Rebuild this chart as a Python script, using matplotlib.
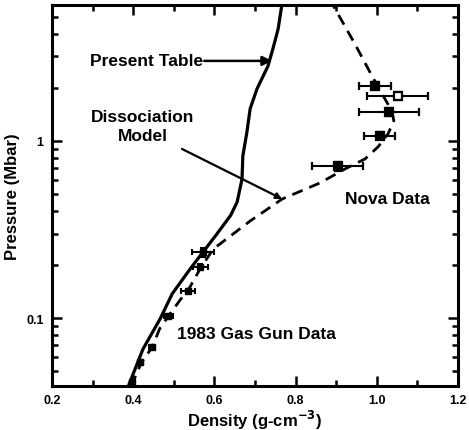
import matplotlib
matplotlib.use("Agg")
import matplotlib.pyplot as plt
from matplotlib.ticker import FixedLocator, NullFormatter, LogLocator, MultipleLocator

plt.rcParams['font.family'] = ['Liberation Sans', 'DejaVu Sans']
plt.rcParams['font.weight'] = 'bold'
plt.rcParams['mathtext.default'] = 'bf'

# Present Table (solid curve)
table_rho = [0.388, 0.424, 0.466, 0.496, 0.540, 0.572, 0.606, 0.640, 0.656, 0.668,
             0.670, 0.680, 0.688, 0.705, 0.732, 0.744, 0.757, 0.766]
table_p = [0.0413, 0.0668, 0.0987, 0.137, 0.189, 0.236, 0.298, 0.38, 0.452, 0.61,
           0.823, 1.12, 1.52, 1.97, 2.65, 3.31, 4.29, 5.85]

# Dissociation model (dashed curve)
model_rho = [0.395, 0.420, 0.447, 0.465, 0.490, 0.515, 0.540, 0.565, 0.597,
             0.688, 0.767, 0.860, 0.922, 0.971, 1.003, 1.028, 1.042, 1.037,
             1.013, 0.988, 0.946, 0.892]
model_p = [0.0413, 0.056, 0.0686, 0.087, 0.105, 0.126, 0.150, 0.19, 0.245,
           0.353, 0.470, 0.579, 0.695, 0.791, 0.925, 1.10, 1.30, 1.48,
           1.84, 2.33, 3.53, 5.85]

# 1983 gas gun data
gun_rho = [0.572, 0.565, 0.535, 0.486, 0.446, 0.417, 0.397]
gun_p = [0.236, 0.195, 0.142, 0.103, 0.0686, 0.0564, 0.0435]
gun_drho = [0.027, 0.018, 0.018, 0.011, 0.008, 0.006, 0.006]
gun_dp = [0.014, 0.006, 0.004, 0.003, 0.002, 0.0015, 0.001]

# Nova data
nova_rho = [0.996, 1.052, 1.030, 1.007, 0.904]
nova_p = [2.05, 1.80, 1.46, 1.07, 0.72]
nova_drho = [0.039, 0.075, 0.073, 0.038, 0.063]
nova_dp = [0.10, 0.09, 0.08, 0.05, 0.04]
nova_open = [False, True, False, False, False]

fig = plt.figure(figsize=(4.69, 4.31), dpi=100)
ax = fig.add_axes([0.111, 0.102, 0.8655, 0.884])

ax.plot(table_rho, table_p, color='black', lw=2.3, solid_capstyle='round')
ax.plot(model_rho, model_p, color='black', lw=2.0, dashes=(4, 2.6))

ax.errorbar(gun_rho, gun_p, xerr=gun_drho, yerr=gun_dp, fmt='s', ms=4,
            color='black', ecolor='black', elinewidth=1.5, capsize=2.5,
            capthick=1.5)
for r, p, dr, dp, op in zip(nova_rho, nova_p, nova_drho, nova_dp, nova_open):
    ax.errorbar([r], [p], xerr=[dr], yerr=[dp], fmt='s', ms=5.5,
                mfc='white' if op else 'black', mec='black', mew=1.6,
                color='black', ecolor='black', elinewidth=1.5, capsize=3,
                capthick=1.5)

ax.set_yscale('log')
ax.set_xlim(0.2, 1.2)
ax.set_ylim(0.0413, 5.85)

ax.xaxis.set_major_locator(MultipleLocator(0.2))
ax.xaxis.set_minor_locator(MultipleLocator(0.1))
ax.xaxis.set_major_formatter(plt.FuncFormatter(lambda v, _: f"{v:.1f}"))
ax.yaxis.set_major_locator(FixedLocator([0.1, 1]))
ax.yaxis.set_major_formatter(plt.FuncFormatter(lambda v, _: "0.1" if v < 0.5 else "1"))
ax.yaxis.set_minor_locator(LogLocator(base=10, subs=range(2, 10)))
ax.yaxis.set_minor_formatter(NullFormatter())

ax.tick_params(which='both', direction='in', top=True, right=True,
               width=1.8, labelsize=9)
ax.tick_params(which='major', length=7, pad=6)
ax.tick_params(which='minor', length=4)
for s in ax.spines.values():
    s.set_linewidth(2.2)

ax.set_xlabel("Density (g-cm$^{-3}$)", fontsize=12, fontweight='bold', labelpad=1)
ax.set_ylabel("Pressure (Mbar)", fontsize=12, fontweight='bold')
ax.yaxis.set_label_coords(-0.079, 0.5)

ax.annotate("", xy=(0.742, 2.83), xytext=(0.575, 2.83),
            arrowprops=dict(arrowstyle='-|>', color='black', lw=1.8,
                            mutation_scale=14, shrinkA=0, shrinkB=0))
ax.text(0.294, 2.83, "Present Table", fontsize=12.5, fontweight='bold',
        ha='left', va='center')

ax.text(0.424, 1.21, "Dissociation\nModel", fontsize=12.5, fontweight='bold',
        ha='center', va='center', multialignment='center', linespacing=1.3)
ax.annotate("", xy=(0.767, 0.47), xytext=(0.520, 0.901),
            arrowprops=dict(arrowstyle='-|>', color='black', lw=1.6,
                            mutation_scale=9, shrinkA=0, shrinkB=0))

ax.text(0.922, 0.47, "Nova Data", fontsize=12.5, fontweight='bold',
        ha='left', va='center')
ax.text(0.508, 0.0813, "1983 Gas Gun Data", fontsize=12.5, fontweight='bold',
        ha='left', va='center')

fig.savefig("out.png", dpi=100)
